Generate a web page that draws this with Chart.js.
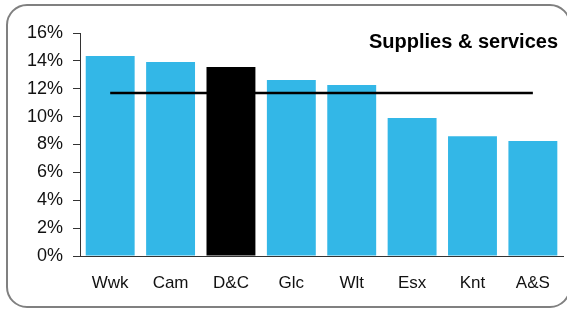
<!DOCTYPE html>
<html>
<head>
<meta charset="utf-8">
<script src="https://cdn.jsdelivr.net/npm/chart.js@4/dist/chart.umd.min.js"></script>
<style>
html,body{margin:0;padding:0;background:#fff;}
#wrap{position:relative;width:567px;height:310px;}
</style>
</head>
<body>
<div id="wrap"><canvas id="c"></canvas></div>
<script>
const categories = ['Wwk', 'Cam', 'D&C', 'Glc', 'Wlt', 'Esx', 'Knt', 'A&S'];
const values = [14.35, 13.92, 13.56, 12.63, 12.27, 9.9, 8.6, 8.25];
const average = [11.7, 11.7, 11.7, 11.7, 11.7, 11.7, 11.7, 11.7];
const highlight = 'D&C';
const yTicks = [0, 2, 4, 6, 8, 10, 12, 14, 16];
const title = 'Supplies & services';

const FONT = "'Liberation Sans', Arial, Helvetica, sans-serif";
const BLUE = '#33B7E7';

const framePlugin = {
  id: 'frame',
  beforeDraw(chart) {
    const ctx = chart.ctx;
    ctx.save();
    ctx.fillStyle = '#fff';
    ctx.fillRect(0, 0, chart.width, chart.height);
    ctx.restore();
  },
  afterDraw(chart) {
    const ctx = chart.ctx;
    ctx.save();
    ctx.strokeStyle = '#808080';
    ctx.lineWidth = 2;
    const x = 7, y = 5, w = 563, h = 302, r = 20;
    ctx.beginPath();
    ctx.moveTo(x + r, y);
    ctx.lineTo(x + w - r, y);
    ctx.arcTo(x + w, y, x + w, y + r, r);
    ctx.lineTo(x + w, y + h - r);
    ctx.arcTo(x + w, y + h, x + w - r, y + h, r);
    ctx.lineTo(x + r, y + h);
    ctx.arcTo(x, y + h, x, y + h - r, r);
    ctx.lineTo(x, y + r);
    ctx.arcTo(x, y, x + r, y, r);
    ctx.closePath();
    ctx.stroke();
    ctx.fillStyle = '#000';
    ctx.font = "bold 20px " + FONT;
    ctx.textAlign = 'right';
    ctx.textBaseline = 'alphabetic';
    ctx.fillText(title, 558, 48);
    ctx.restore();
  }
};

new Chart(document.getElementById('c'), {
  data: {
    labels: categories,
    datasets: [
      {
        type: 'line',
        data: average,
        borderColor: '#000',
        borderWidth: 2.5,
        pointRadius: 0,
        fill: false,
        order: 0
      },
      {
        type: 'bar',
        data: values,
        backgroundColor: categories.map(c => c === highlight ? '#000' : BLUE),
        barPercentage: 0.81,
        categoryPercentage: 1,
        order: 1
      }
    ]
  },
  options: {
    responsive: true,
    maintainAspectRatio: false,
    animation: false,
    events: [],
    layout: { padding: { left: 0, top: 33, right: 2, bottom: 0 } },
    plugins: { legend: { display: false }, tooltip: { enabled: false }, title: { display: false } },
    scales: {
      x: {
        grid: { display: false, drawTicks: false },
        border: { display: true, color: '#333', width: 1 },
        ticks: { color: '#111', font: { family: FONT, size: 17 }, padding: 17, maxRotation: 0 },
        afterFit(s) { s.height = 54; }
      },
      y: {
        min: 0, max: 16,
        afterBuildTicks(s) { s.ticks = yTicks.map(v => ({ value: v })); },
        grid: { display: true, drawOnChartArea: false, drawTicks: true, tickLength: 7, color: '#333' },
        border: { display: true, color: '#333', width: 1 },
        ticks: { color: '#111', font: { family: FONT, size: 18 }, padding: 10, callback: v => v + '%' },
        afterFit(s) { s.width = 80; }
      }
    }
  },
  plugins: [framePlugin]
});
</script>
</body>
</html>
